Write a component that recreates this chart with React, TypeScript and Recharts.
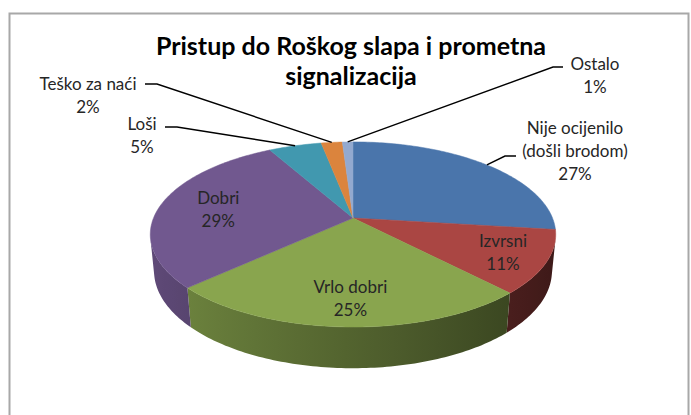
import React from 'react';
import { PieChart, Pie, Cell } from 'recharts';

// ---------- data ----------
const categories = ['Nije ocijenilo (došli brodom)', 'Izvrsni', 'Vrlo dobri', 'Dobri', 'Loši', 'Teško za naći', 'Ostalo'];
const labelTexts = [['Nije ocijenilo', '(došli brodom)'], ['Izvrsni'], ['Vrlo dobri'], ['Dobri'], ['Loši'], ['Teško za naći'], ['Ostalo']];
const percentages = [27, 11, 25, 29, 5, 2, 1];
const colors = ['#4A75AB', '#AA4643', '#89A54E', '#71588F', '#4198AF', '#DB843D', '#93A9CF'];
const titleLines = ['Pristup do Roškog slapa i prometna', 'signalizacija'];

// ---------- layout / style ----------
const W = 691;
const H = 415;
const CX = 353;
const CY = 218;
const RADIUS = 199.5;
const TILT = (26.7 * Math.PI) / 180;
const DIST = 1002;
const DEPTH = 41;
const FONT = 'Lato, "Open Sans", sans-serif';
const LABEL_SIZE = 17;
const LINE_GAP = 23;

type LabelLayout =
  | { type: 'inside'; k: number; dx: number; dy: number }
  | { type: 'outside'; tx: number; ty: number; elbow: [number, number]; end: [number, number] };

const labelLayout: LabelLayout[] = [
  { type: 'outside', tx: 575, ty: 127, elbow: [505, 156], end: [516, 156] },
  { type: 'inside', k: 0.78, dx: 2, dy: 0 },
  { type: 'inside', k: 0.77, dx: 3, dy: 0 },
  { type: 'inside', k: 0.66, dx: -7, dy: 0 },
  { type: 'outside', tx: 142, ty: 123, elbow: [177, 127], end: [165, 127] },
  { type: 'outside', tx: 88, ty: 83, elbow: [157, 84], end: [145, 84] },
  { type: 'outside', tx: 595, ty: 63, elbow: [553, 67], end: [563, 67] },
];

const data = categories.map((name, i) => ({ name, value: percentages[i] }));

function project(cx: number, cy: number, r: number, deg: number, z: number): [number, number] {
  const p = (deg * Math.PI) / 180;
  const X = r * Math.cos(p);
  const Y = r * Math.sin(p);
  const v = Y * Math.sin(TILT) + z * Math.cos(TILT);
  const w = Y * Math.cos(TILT) - z * Math.sin(TILT);
  const f = DIST / (DIST + w);
  return [cx + X * f, cy - v * f];
}

function shade(hex: string, f: number) {
  const n = parseInt(hex.slice(1), 16);
  const r = Math.round(((n >> 16) & 255) * f);
  const g = Math.round(((n >> 8) & 255) * f);
  const b = Math.round((n & 255) * f);
  return `rgb(${r},${g},${b})`;
}

const pts = (arr: [number, number][]) => arr.map((p) => `${p[0].toFixed(2)},${p[1].toFixed(2)}`).join(' ');

const Slice3D = (props: any) => {
  const { cx, cy, outerRadius, startAngle, endAngle, fill, index } = props;
  const lo = Math.min(startAngle, endAngle);
  const hi = Math.max(startAngle, endAngle);
  const sil = (Math.asin(outerRadius / (DIST * Math.cos(TILT))) * 180) / Math.PI;
  const a = Math.max(lo, -180 + sil);
  const b = Math.min(hi, -sil);
  let wall: React.ReactNode = null;
  if (a < b) {
    const n = Math.max(2, Math.ceil((b - a) / 1));
    const topArc: [number, number][] = [];
    const botArc: [number, number][] = [];
    for (let i = 0; i <= n; i++) {
      const t = a + ((b - a) * i) / n;
      topArc.push(project(cx, cy, outerRadius, t, 0));
      botArc.push(project(cx, cy, outerRadius, t, -DEPTH));
    }
    const x1 = topArc[0][0];
    const x2 = topArc[n][0];
    const stops: React.ReactNode[] = [];
    const ns = 8;
    for (let i = 0; i <= ns; i++) {
      const t = a + ((b - a) * i) / ns;
      const px = project(cx, cy, outerRadius, t, 0)[0];
      const off = x2 === x1 ? 0 : (px - x1) / (x2 - x1);
      const col = shade(fill, 0.6 - 0.25 * Math.cos((t * Math.PI) / 180));
      stops.push(<stop key={i} offset={Math.min(1, Math.max(0, off))} stopColor={col} />);
    }
    const id = `wall-grad-${index}`;
    wall = (
      <g>
        <defs>
          <linearGradient id={id} gradientUnits="userSpaceOnUse" x1={x1} y1={0} x2={x2} y2={0}>
            {stops}
          </linearGradient>
        </defs>
        <polygon points={pts([...topArc, ...botArc.reverse()])} fill={`url(#${id})`} />
      </g>
    );
  }
  const steps = Math.max(2, Math.ceil(hi - lo));
  const top: [number, number][] = [[cx, cy]];
  for (let i = 0; i <= steps; i++) top.push(project(cx, cy, outerRadius, lo + ((hi - lo) * i) / steps, 0));
  return (
    <g>
      {wall}
      <polygon points={pts(top)} fill={fill} stroke={fill} strokeWidth={0.5} />
    </g>
  );
};

const renderLabel = (props: any) => {
  const { cx, cy, midAngle, outerRadius, index } = props;
  const lay = labelLayout[index];
  const lines = [...labelTexts[index], `${percentages[index]}%`];
  if (lay.type === 'inside') {
    const [x, y] = project(cx, cy, outerRadius * lay.k, midAngle, 0);
    const x0 = x + lay.dx;
    const y0 = y + lay.dy - ((lines.length - 1) * LINE_GAP) / 2;
    return (
      <g>
        {lines.map((t, i) => (
          <text key={i} x={x0} y={y0 + i * LINE_GAP} textAnchor="middle" dominantBaseline="central"
            fontFamily={FONT} fontSize={LABEL_SIZE} fill="#262626">{t}</text>
        ))}
      </g>
    );
  }
  const start = project(cx, cy, outerRadius, midAngle, 0);
  return (
    <g>
      <polyline points={pts([start, lay.elbow, lay.end])} fill="none" stroke="#000" strokeWidth={1.4} />
      {lines.map((t, i) => (
        <text key={i} x={lay.tx} y={lay.ty + i * LINE_GAP} textAnchor="middle" dominantBaseline="central"
          fontFamily={FONT} fontSize={LABEL_SIZE} fill="#262626">{t}</text>
      ))}
    </g>
  );
};

export default function App() {
  return (
    <div style={{ position: 'fixed', left: 0, top: 0, width: W, height: H, background: '#fff' }}>
      <svg width={W} height={H} style={{ position: 'absolute', left: 0, top: 0 }}>
        <rect x={9.5} y={13.5} width={679} height={420} fill="#fff" stroke="#a8a8a8" strokeWidth={2} />
        {titleLines.map((t, i) => (
          <text key={i} x={351} y={45 + i * 30} textAnchor="middle" dominantBaseline="central"
            fontFamily={FONT} fontWeight="bold" fontSize={25} fill="#000">{t}</text>
        ))}
      </svg>
      <div style={{ position: 'absolute', left: 0, top: 0 }}>
        <PieChart width={W} height={H} margin={{ top: 0, right: 0, bottom: 0, left: 0 }}>
          <Pie
            data={data}
            dataKey="value"
            nameKey="name"
            cx={CX}
            cy={CY}
            outerRadius={RADIUS}
            startAngle={90}
            endAngle={-270}
            isAnimationActive={false}
            stroke="none"
            shape={Slice3D}
            inactiveShape={Slice3D}
            activeShape={Slice3D}
            label={renderLabel}
            labelLine={false}
          >
            {data.map((d, i) => (
              <Cell key={d.name} fill={colors[i]} />
            ))}
          </Pie>
        </PieChart>
      </div>
    </div>
  );
}
